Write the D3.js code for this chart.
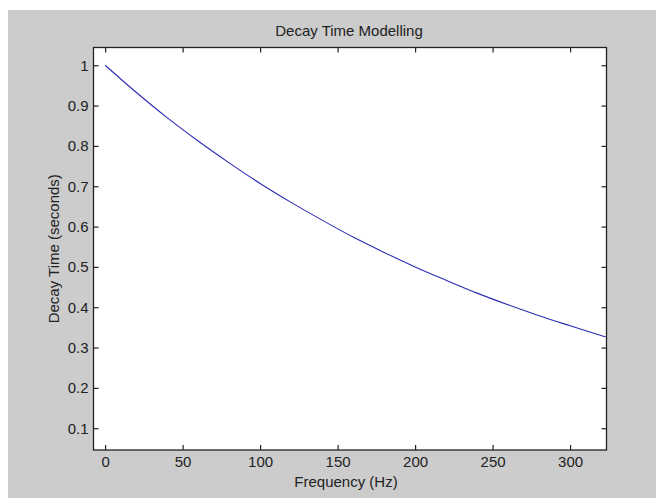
<!DOCTYPE html>
<html>
<head>
<meta charset="utf-8">
<script src="https://cdn.jsdelivr.net/npm/d3@7"></script>
<style>
    html, body { margin: 0; padding: 0; background: #ffffff; }
    svg { display: block; }
</style>
</head>
<body>
<div id="chart"></div>
<script>
// data
const frequency = [0, 20, 40, 60, 80, 100, 120, 140, 160, 180, 200, 220, 240, 260, 280, 300, 323];
const decayTime = [1.000, 0.933, 0.870, 0.812, 0.758, 0.707, 0.660, 0.616, 0.574, 0.536, 0.500, 0.467, 0.435, 0.406, 0.379, 0.354, 0.326];
const xTicks = [0, 50, 100, 150, 200, 250, 300];
const yTicks = [0.1, 0.2, 0.3, 0.4, 0.5, 0.6, 0.7, 0.8, 0.9, 1];
const titleText = 'Decay Time Modelling';
const xLabelText = 'Frequency (Hz)';
const yLabelText = 'Decay Time (seconds)';

const width = 656;
const height = 498;
const margin = { top: 47.5, right: 49.5, bottom: 48, left: 93.5 };
const font = '"Liberation Sans", Arial, sans-serif';
const fontSize = 15;
const tickLen = 5;

const svg = d3.select('#chart')
    .append('svg')
    .attr('width', width)
    .attr('height', height);

// figure background
svg.append('rect')
    .attr('x', 8)
    .attr('y', 10)
    .attr('width', width - 8)
    .attr('height', height - 10)
    .attr('fill', '#cccccc');

const x = d3.scaleLinear()
    .domain([-7.5, 323.5])
    .range([margin.left, width - margin.right]);

const y = d3.scaleLinear()
    .domain([0.046, 1.044])
    .range([height - margin.bottom, margin.top]);

const g = svg.append('g');

// axes area
g.append('rect')
    .attr('x', margin.left)
    .attr('y', margin.top)
    .attr('width', width - margin.left - margin.right)
    .attr('height', height - margin.top - margin.bottom)
    .attr('fill', '#ffffff');

// curve
const line = d3.line()
    .x((d, i) => x(frequency[i]))
    .y((d) => y(d))
    .curve(d3.curveMonotoneX);

g.append('path')
    .datum(decayTime)
    .attr('fill', 'none')
    .attr('stroke', '#2c2cb4')
    .attr('stroke-width', 1.1)
    .attr('d', line);

// ticks, inside on all four sides (matlab style)
const styleAxis = (sel) => {
    sel.select('.domain').remove();
    sel.selectAll('line').attr('stroke', '#222222').attr('stroke-width', 1.2);
    sel.selectAll('text')
        .attr('fill', '#222222')
        .style('font-family', font)
        .style('font-size', `${fontSize}px`);
};

g.append('g')
    .attr('transform', `translate(0,${height - margin.bottom})`)
    .call(d3.axisBottom(x).tickValues(xTicks).tickFormat(d3.format('d'))
        .tickSizeInner(-tickLen).tickSizeOuter(0).tickPadding(6))
    .call(styleAxis);

g.append('g')
    .attr('transform', `translate(0,${margin.top})`)
    .call(d3.axisTop(x).tickValues(xTicks).tickFormat('')
        .tickSizeInner(-tickLen).tickSizeOuter(0))
    .call(styleAxis);

g.append('g')
    .attr('transform', `translate(${margin.left},0)`)
    .call(d3.axisLeft(y).tickValues(yTicks).tickFormat(d3.format('~g'))
        .tickSizeInner(-tickLen).tickSizeOuter(0).tickPadding(5))
    .call(styleAxis);

g.append('g')
    .attr('transform', `translate(${width - margin.right},0)`)
    .call(d3.axisRight(y).tickValues(yTicks).tickFormat('')
        .tickSizeInner(-tickLen).tickSizeOuter(0))
    .call(styleAxis);

// box
g.append('rect')
    .attr('x', margin.left)
    .attr('y', margin.top)
    .attr('width', width - margin.left - margin.right)
    .attr('height', height - margin.top - margin.bottom)
    .attr('fill', 'none')
    .attr('stroke', '#222222')
    .attr('stroke-width', 1.3);

// title and labels
const cx = (margin.left + width - margin.right) / 2;

svg.append('text')
    .attr('x', cx - 1)
    .attr('y', 36)
    .attr('text-anchor', 'middle')
    .attr('fill', '#222222')
    .style('font-family', font)
    .style('font-size', `${fontSize}px`)
    .text(titleText);

svg.append('text')
    .attr('x', cx - 4)
    .attr('y', 487)
    .attr('text-anchor', 'middle')
    .attr('fill', '#222222')
    .style('font-family', font)
    .style('font-size', `${fontSize}px`)
    .text(xLabelText);

svg.append('text')
    .attr('transform', `translate(59,${(margin.top + height - margin.bottom) / 2}) rotate(-90)`)
    .attr('text-anchor', 'middle')
    .attr('fill', '#222222')
    .style('font-family', font)
    .style('font-size', `${fontSize}px`)
    .text(yLabelText);
</script>
</body>
</html>
